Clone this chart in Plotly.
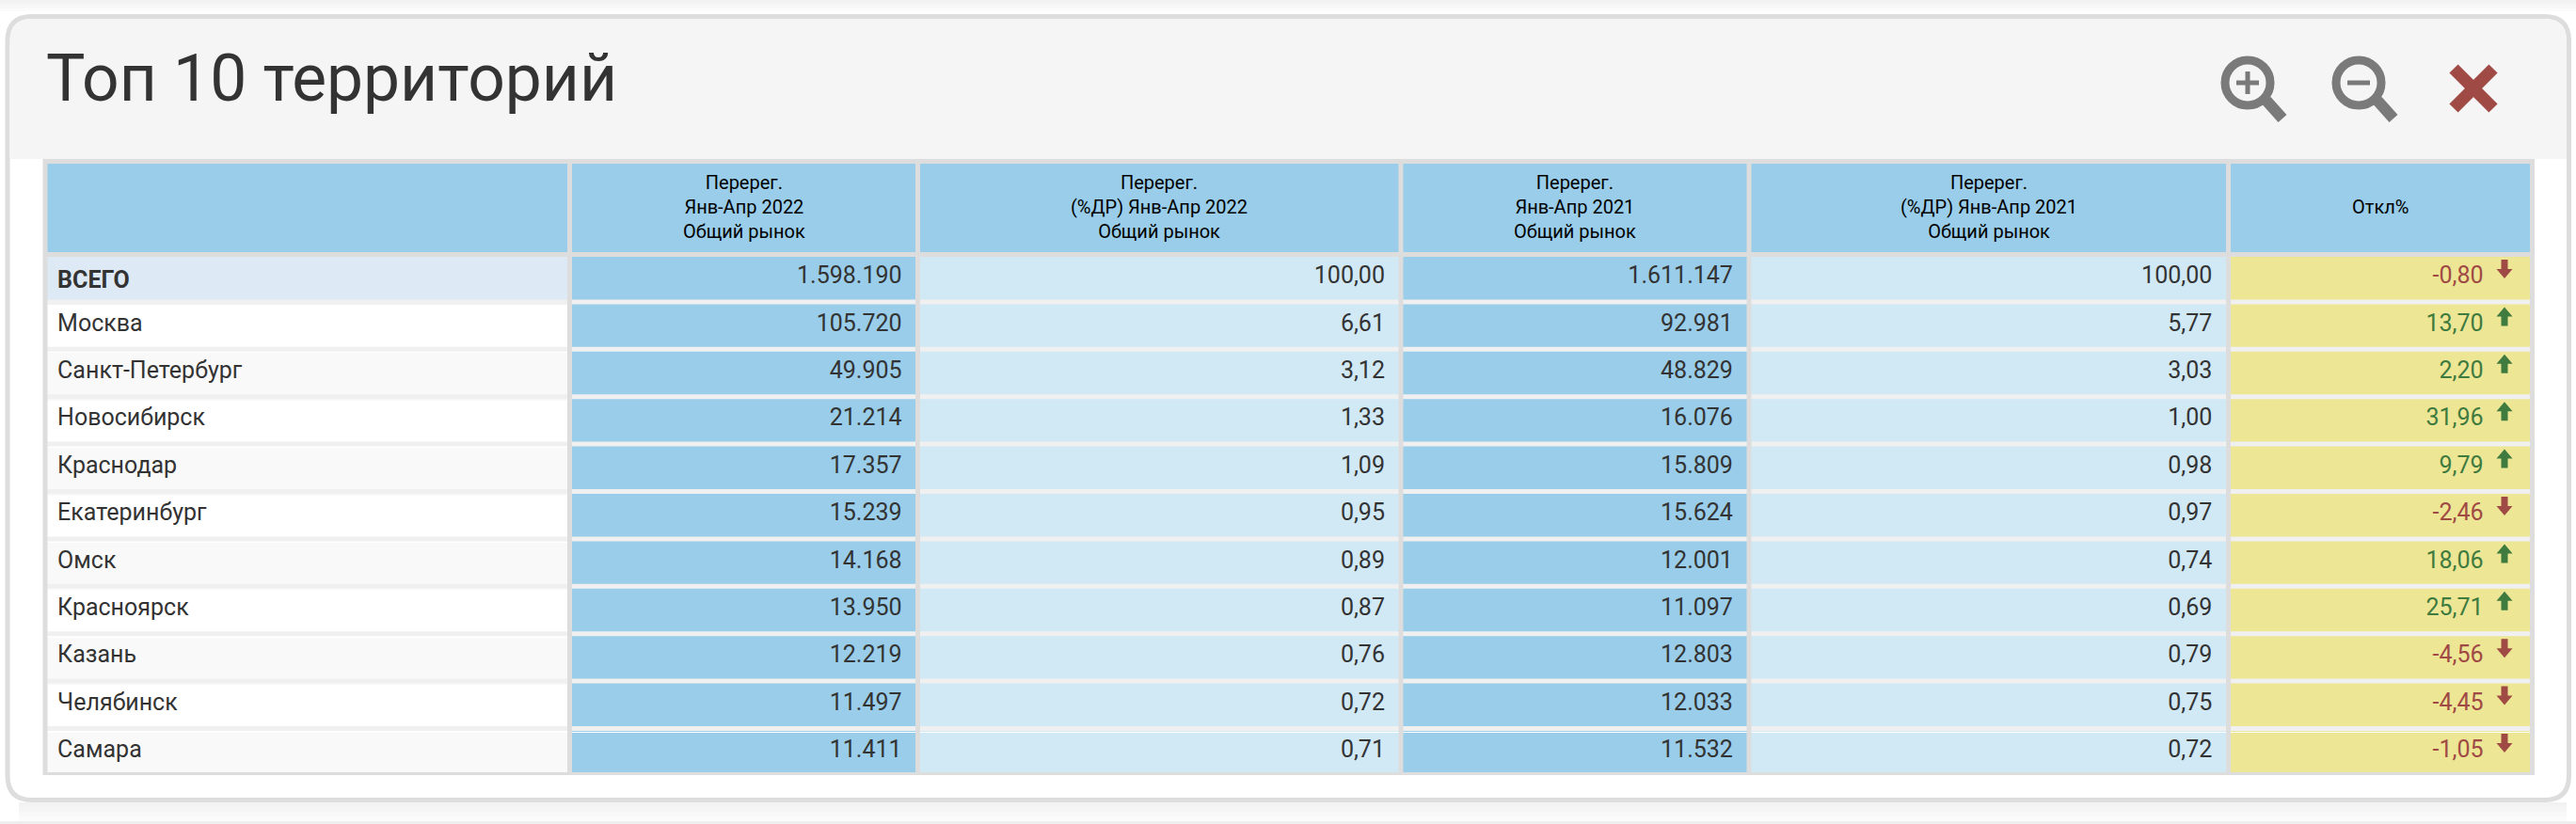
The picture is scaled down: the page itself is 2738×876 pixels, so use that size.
import plotly.graph_objects as go

W, H = 2738, 876

# table data
territories = ['ВСЕГО', 'Москва', 'Санкт-Петербург', 'Новосибирск', 'Краснодар', 'Екатеринбург',
               'Омск', 'Красноярск', 'Казань', 'Челябинск', 'Самара']
perereg_2022 = [1598190, 105720, 49905, 21214, 17357, 15239, 14168, 13950, 12219, 11497, 11411]
share_2022 = [100.00, 6.61, 3.12, 1.33, 1.09, 0.95, 0.89, 0.87, 0.76, 0.72, 0.71]
perereg_2021 = [1611147, 92981, 48829, 16076, 15809, 15624, 12001, 11097, 12803, 12033, 11532]
share_2021 = [100.00, 5.77, 3.03, 1.00, 0.98, 0.97, 0.74, 0.69, 0.79, 0.75, 0.72]
otkl = [-0.80, 13.70, 2.20, 31.96, 9.79, -2.46, 18.06, 25.71, -4.56, -4.45, -1.05]
headers = ['', 'Перерег.<br>Янв-Апр 2022<br>Общий рынок', 'Перерег.<br>(%ДР) Янв-Апр 2022<br>Общий рынок',
           'Перерег.<br>Янв-Апр 2021<br>Общий рынок', 'Перерег.<br>(%ДР) Янв-Апр 2021<br>Общий рынок', 'Откл%']

# column edges in page pixels (middle of the separators)
col_edges = [48, 605.5, 975.5, 1489, 1859, 2368.5, 2691.5]
table_top, header_bottom = 171.5, 270.5
row_h = 50.4
text_shift = 4  # table text sits at the top of the cell, so the whole table goes down a bit

BLUE = '#99cde9'
LIGHT = '#d1e8f5'
YELLOW = '#ede694'
RED = '#a04a45'
GREEN = '#3f7a3f'
ICON = '#7a7a7a'
LINE = '#dddddd'
GAP = '#f0f0f0'
PAD = '\u00a0\u200a'


def px(x):
    return x / W


def py(y):
    return 1 - y / H


def thousands(v):
    return f'{v:,}'.replace(',', '.') + PAD


def dec(v):
    return f'{v:.2f}'.replace('.', ',') + PAD


def rect(x0, y0, x1, y1, fill, layer='above'):
    return dict(type='rect', xref='paper', yref='paper', x0=px(x0), x1=px(x1), y0=py(y0), y1=py(y1),
                fillcolor=fill, line_width=0, layer=layer)


def seg(x0, y0, x1, y1, color, width):
    return dict(type='line', xref='paper', yref='paper', x0=px(x0), x1=px(x1), y0=py(y0), y1=py(y1),
                line=dict(color=color, width=width), layer='above')


def circle(cx, cy, r, color, width):
    return dict(type='circle', xref='paper', yref='paper', x0=px(cx - r), x1=px(cx + r), y0=py(cy - r), y1=py(cy + r),
                line=dict(color=color, width=width), layer='above')


def poly(points, fill):
    d = 'M' + ' L'.join(f'{px(x)},{py(y)}' for x, y in points) + ' Z'
    return dict(type='path', xref='paper', yref='paper', path=d, fillcolor=fill, line_width=0, layer='above')


def arrow(row, value):
    # little arrow on the right of the Откл% cell
    top = header_bottom + 2.5 + row * row_h + 3
    cx = 2662
    if value < 0:
        pts = [(cx - 3.5, top), (cx + 3.5, top), (cx + 3.5, top + 10), (cx + 8.5, top + 10), (cx, top + 20),
               (cx - 8.5, top + 10), (cx - 3.5, top + 10)]
    else:
        pts = [(cx, top), (cx + 8.5, top + 10), (cx + 3.5, top + 10), (cx + 3.5, top + 20), (cx - 3.5, top + 20),
               (cx - 3.5, top + 10), (cx - 8.5, top + 10)]
    return poly(pts, RED if value < 0 else GREEN)


def round_box(x0, y0, x1, y1, r, fill=None, top_only=False):
    d = f'M{px(x0)},{py(y0 + r)} Q{px(x0)},{py(y0)} {px(x0 + r)},{py(y0)} '
    d += f'L{px(x1 - r)},{py(y0)} Q{px(x1)},{py(y0)} {px(x1)},{py(y0 + r)} '
    if top_only:
        d += f'L{px(x1)},{py(y1)} L{px(x0)},{py(y1)} Z'
    else:
        d += f'L{px(x1)},{py(y1 - r)} Q{px(x1)},{py(y1)} {px(x1 - r)},{py(y1)} '
        d += f'L{px(x0 + r)},{py(y1)} Q{px(x0)},{py(y1)} {px(x0)},{py(y1 - r)} Z'
    return dict(type='path', xref='paper', yref='paper', path=d, fillcolor=fill or 'rgba(0,0,0,0)',
                line=dict(color=LINE, width=5) if not top_only else dict(width=0), layer='below')


first_col_fill = ['#ddeaf5'] + ['#ffffff' if i % 2 == 0 else '#f9f9f9' for i in range(10)]
lead = PAD[1] * 2
first_col_text = [lead + '<b>ВСЕГО</b>'] + [lead + t for t in territories[1:]]
col_fills = [first_col_fill, [BLUE] * 11, [LIGHT] * 11, [BLUE] * 11, [LIGHT] * 11, [YELLOW] * 11]
head_h = header_bottom - table_top + text_shift

table = go.Table(
    domain=dict(x=[px(col_edges[0]), px(col_edges[-1])], y=[py(table_top + head_h + 11 * row_h + 1), py(table_top)]),
    columnwidth=[b - a for a, b in zip(col_edges, col_edges[1:])],
    # header labels are annotations below, table headers cannot centre each line
    header=dict(values=[' '] * 6, height=head_h, fill_color=[c[0] for c in col_fills], line=dict(width=0)),
    cells=dict(
        values=[first_col_text,
                [thousands(v) for v in perereg_2022],
                [dec(v) for v in share_2022],
                [thousands(v) for v in perereg_2021],
                [dec(v) for v in share_2021],
                [dec(v).strip() + '\u00a0' * 7 for v in otkl]],
        height=row_h,
        fill_color=col_fills,
        line=dict(width=0),
        align=['left', 'right', 'right', 'right', 'right', 'right'],
        font=dict(family='Roboto', size=25,
                  color=['#333333'] * 5 + [[RED if v < 0 else GREEN for v in otkl]]),
    ),
)

shapes = []
# shadows around the panel and the neighbouring panels
for i, c in enumerate(['#f2f2f2', '#f5f5f5', '#f8f8f8', '#fbfbfb']):
    shapes.append(rect(0, 3 * i, W, 3 * i + 3, c, 'below'))
    shapes.append(rect(20, 853 + 5 * i, W - 10, 858 + 5 * i, c, 'below'))
shapes.append(rect(0, 873, W, 876, '#eeeeee', 'below'))
shapes.append(round_box(8, 17.5, 2730.5, 850.5, 26, '#ffffff'))
shapes.append(round_box(10.5, 20, 2728, 169, 24, '#f5f5f5', top_only=True))

# header background and row gaps, drawn over the cells
shapes.append(rect(col_edges[0], table_top, col_edges[-1], header_bottom, BLUE))
shapes.append(rect(col_edges[0], header_bottom + row_h + 2.5, col_edges[1], header_bottom + row_h + text_shift, first_col_fill[1]))
for k in range(1, 11):
    y = header_bottom + k * row_h
    shapes.append(rect(col_edges[0], y - 2.5, col_edges[-1], y + 2.5, GAP))
for x in col_edges:
    shapes.append(seg(x, 169, x, 824, LINE, 5))
shapes.append(rect(46, 169, 2694, 174, LINE))
shapes.append(rect(46, 268, 2694, 273, LINE))
shapes.append(rect(30, 824, 2700, 840, '#ffffff'))
shapes.append(rect(46, 821, 2694, 824, LINE))

shapes += [arrow(i, v) for i, v in enumerate(otkl)]

# toolbar icons
for cx in [2389, 2507]:
    shapes.append(circle(cx, 88, 24, ICON, 9))
    shapes.append(seg(cx + 20, 107, cx + 37, 126, ICON, 12))
    shapes.append(seg(cx - 12, 88, cx + 12, 88, ICON, 5))
shapes.append(seg(2389, 76, 2389, 100, ICON, 5))
shapes.append(seg(2608, 73, 2650, 115, RED, 13))
shapes.append(seg(2650, 73, 2608, 115, RED, 13))

annotations = [dict(text='Топ 10 территорий', xref='paper', yref='paper', x=px(47), y=py(83),
                    xanchor='left', yanchor='middle', showarrow=False,
                    font=dict(family='Roboto', size=69.5, color='#333333'))]
for a, b, label in zip(col_edges, col_edges[1:], headers):
    if label:
        annotations.append(dict(text=label, xref='paper', yref='paper', x=px((a + b) / 2), y=py(220),
                                xanchor='center', yanchor='middle', showarrow=False,
                                font=dict(family='Roboto', size=20, color='#000000')))

fig = go.Figure(table)
fig.update_layout(
    width=W, height=H, margin=dict(l=0, r=0, t=0, b=0), paper_bgcolor='#ffffff', showlegend=False,
    shapes=shapes, annotations=annotations,
)

fig.write_html('out.html', config={'displayModeBar': False}, post_script="document.body.style.margin='0';")
